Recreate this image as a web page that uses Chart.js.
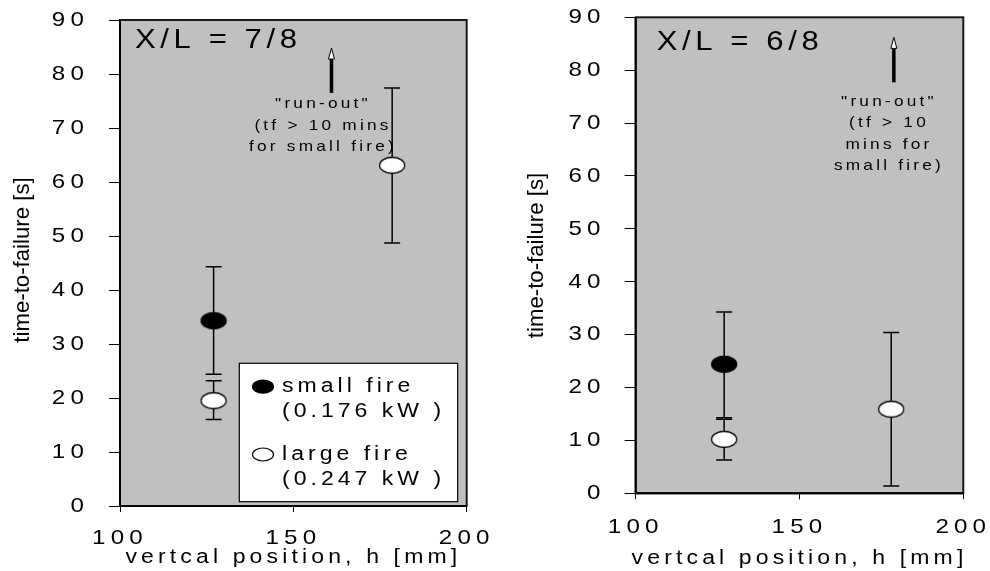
<!DOCTYPE html>
<html><head><meta charset="utf-8">
<script src="https://cdn.jsdelivr.net/npm/chart.js@4.4.1/dist/chart.umd.min.js"></script>
<style>
html,body{margin:0;padding:0;background:#fff;}
#wrap{position:relative;width:990px;height:571px;overflow:hidden;}
canvas{position:absolute;top:0;}
#c1{left:0}
#c2{left:495px}
</style></head><body>
<div id="wrap"><canvas id="c1" width="495" height="571"></canvas><canvas id="c2" width="495" height="571"></canvas></div>
<script>
// ---------- data ----------
const xTicks = [100, 150, 200];
const yTicks = [0, 10, 20, 30, 40, 50, 60, 70, 80, 90];
const seriesNames = ['small fire', 'large fire'];
const seriesPower = ['(0.176 kW )', '(0.247 kW )'];
const xTitle = 'vertcal position, h [mm]';
const yTitle = 'time-to-failure [s]';

// panel X/L = 7/8
const title78 = 'X/L = 7/8';
const small78_h = [127];
const small78_t = [34.3];
const small78_lo = [24.4];
const small78_hi = [44.3];
const large78_h = [127, 178.5];
const large78_t = [19.5, 63.1];
const large78_lo = [16.0, 48.7];
const large78_hi = [23.2, 77.4];
const runout78_h = [161];
const runout78_from = [76.5];
const runout78_to = [84.8];
const note78 = ['"run-out"', '(tf > 10 mins', 'for small fire)'];

// panel X/L = 6/8
const title68 = 'X/L = 6/8';
const small68_h = [127];
const small68_t = [24.4];
const small68_lo = [14.3];
const small68_hi = [34.3];
const large68_h = [127, 178];
const large68_t = [10.2, 15.9];
const large68_lo = [6.3, 1.4];
const large68_hi = [14.0, 30.4];
const runout68_h = [178.8];
const runout68_from = [77.7];
const runout68_to = [86.2];
const note68 = ['"run-out"', '(tf > 10', 'mins for', 'small fire)'];

// ---------- helpers ----------
const FAM = '"Liberation Sans", Arial, Helvetica, sans-serif';
const origFill = CanvasRenderingContext2D.prototype.fillText;
const SX = 1.15;

function patchCtx(ctx) {
  if (ctx.__patched) return;
  ctx.__patched = true;
  ctx.fillText = function (t, x, y) {
    const m = /(\d+(?:\.\d+)?)px/.exec(this.font);
    const size = m ? parseFloat(m[1]) : 20;
    const ls = size >= 21 ? 4.5 : 3.6;
    this.save();
    this.letterSpacing = ls + 'px';
    this.translate(x, y);
    this.scale(SX, 1);
    origFill.call(this, t, 0, 0);
    this.restore();
  };
}

function sText(ctx, txt, x, y, size, ls, sx, align) {
  ctx.save();
  ctx.font = size + 'px ' + FAM;
  ctx.letterSpacing = ls + 'px';
  ctx.textAlign = align || 'left';
  ctx.textBaseline = 'middle';
  ctx.fillStyle = '#000';
  ctx.translate(x, y);
  ctx.scale(sx, 1);
  origFill.call(ctx, txt, 0, 0);
  ctx.restore();
}

function ellipseImg(fill, w, h) {
  const c = document.createElement('canvas');
  c.width = w + 3; c.height = h + 3;
  const g = c.getContext('2d');
  g.beginPath();
  g.ellipse(c.width / 2, c.height / 2, w / 2, h / 2, 0, 0, Math.PI * 2);
  g.fillStyle = fill; g.fill();
  g.lineWidth = 1.3; g.strokeStyle = '#000'; g.stroke();
  return c;
}
const blackMark = ellipseImg('#000', 25, 16);
const whiteMark = ellipseImg('#fff', 25, 16);

function pts(hs, ts) { return hs.map((h, i) => ({ x: h, y: ts[i] })); }

function makeChart(id, P) {
  const W = 495, H = 571;
  const A = P.area;
  const plugin = {
    id: 'panel' + id,
    beforeInit(chart) { patchCtx(chart.ctx); },
    beforeDraw(chart) {
      patchCtx(chart.ctx);
      const ctx = chart.ctx, ca = chart.chartArea;
      ctx.save();
      ctx.fillStyle = '#c0c0c0';
      ctx.fillRect(ca.left, ca.top, ca.right - ca.left, ca.bottom - ca.top);
      ctx.restore();
    },
    beforeDatasetsDraw(chart) {
      const ctx = chart.ctx, ca = chart.chartArea;
      const xs = chart.scales.x, ys = chart.scales.y;
      ctx.save();
      ctx.strokeStyle = '#1a1a1a'; ctx.lineWidth = 2;
      ctx.strokeRect(ca.left, ca.top, ca.right - ca.left, ca.bottom - ca.top);
      ctx.strokeStyle = '#000';
      ctx.beginPath();
      ctx.moveTo(ca.left, ca.top); ctx.lineTo(ca.left, ca.bottom); ctx.lineTo(ca.right, ca.bottom);
      ctx.stroke();
      // error bars
      ctx.lineWidth = 1.5; ctx.strokeStyle = '#000';
      P.err.forEach(s => {
        s.h.forEach((h, i) => {
          const px = xs.getPixelForValue(h);
          const lo = ys.getPixelForValue(s.lo[i]), hi = ys.getPixelForValue(s.hi[i]);
          ctx.beginPath();
          ctx.moveTo(px, lo); ctx.lineTo(px, hi);
          ctx.moveTo(px - 8, lo); ctx.lineTo(px + 8, lo);
          ctx.moveTo(px - 8, hi); ctx.lineTo(px + 8, hi);
          ctx.stroke();
        });
      });
      ctx.restore();
    },
    afterDatasetsDraw(chart) {
      const ctx = chart.ctx;
      const xs = chart.scales.x, ys = chart.scales.y;
      // run-out arrows
      P.run.h.forEach((h, i) => {
        const px = xs.getPixelForValue(h);
        const y0 = ys.getPixelForValue(P.run.from[i]);
        const yt = ys.getPixelForValue(P.run.to[i]);
        const hl = 11, hw = 3;
        ctx.save();
        ctx.strokeStyle = '#000'; ctx.lineWidth = 3.5;
        ctx.beginPath(); ctx.moveTo(px, y0); ctx.lineTo(px, yt + hl - 1); ctx.stroke();
        ctx.beginPath();
        ctx.moveTo(px, yt); ctx.lineTo(px - hw, yt + hl); ctx.lineTo(px + hw, yt + hl); ctx.closePath();
        ctx.fillStyle = '#fff'; ctx.fill();
        ctx.lineWidth = 1; ctx.stroke();
        ctx.restore();
      });
      // notes
      P.note.lines.forEach((t, i) => {
        sText(ctx, t, P.note.x, P.note.y[i], 15, 2.8, 1.15, 'center');
      });
      // panel title
      sText(ctx, P.title, P.label.x, P.label.y, 27, 4, 1.15, 'left');
    },
    afterDraw(chart) {
      const ctx = chart.ctx;
      // y axis title (not spaced)
      ctx.save();
      ctx.translate(P.yTitle.x, P.yTitle.y);
      ctx.rotate(-Math.PI / 2);
      ctx.scale(1.01, 1);
      ctx.font = '22px ' + FAM;
      ctx.letterSpacing = '0px';
      ctx.textAlign = 'center'; ctx.textBaseline = 'middle';
      ctx.fillStyle = '#000';
      origFill.call(ctx, yTitle, 0, 0);
      ctx.restore();
      // legend
      if (P.legend) {
        const L = P.legend;
        ctx.save();
        ctx.fillStyle = '#fff';
        ctx.fillRect(L.x0, L.y0, L.x1 - L.x0, L.y1 - L.y0);
        ctx.strokeStyle = '#000'; ctx.lineWidth = 1.2;
        ctx.strokeRect(L.x0, L.y0, L.x1 - L.x0, L.y1 - L.y0);
        const fills = ['#000', '#fff'];
        seriesNames.forEach((name, i) => {
          const cy = L.rows[i];
          ctx.beginPath();
          ctx.ellipse(L.mx, cy, 10.5, 6.5, 0, 0, Math.PI * 2);
          ctx.fillStyle = fills[i]; ctx.fill();
          ctx.lineWidth = 1.2; ctx.strokeStyle = '#000'; ctx.stroke();
          sText(ctx, name, L.tx, cy, 20, 3.5, 1.15, 'left');
          sText(ctx, seriesPower[i], L.tx, cy + L.gap, 20, 3.5, 1.15, 'left');
        });
        ctx.restore();
      }
    }
  };

  return new Chart(document.getElementById(id), {
    type: 'scatter',
    data: {
      datasets: [
        { label: seriesNames[0], data: pts(P.small.h, P.small.t), pointStyle: blackMark, pointRadius: 9, pointHoverRadius: 9 },
        { label: seriesNames[1], data: pts(P.large.h, P.large.t), pointStyle: whiteMark, pointRadius: 9, pointHoverRadius: 9 }
      ]
    },
    options: {
      responsive: false,
      animation: false,
      devicePixelRatio: 1,
      events: [],
      layout: { padding: { top: A.t, right: W - A.r, left: 0, bottom: 0 } },
      plugins: { legend: { display: false }, tooltip: { enabled: false } },
      scales: {
        x: {
          type: 'linear', min: 100, max: 200,
          afterBuildTicks: s => { s.ticks = xTicks.map(v => ({ value: v })); },
          afterFit: s => { s.height = H - A.b; s.paddingLeft = 0; s.paddingRight = 0; },
          grid: { drawOnChartArea: false, drawTicks: true, tickLength: 6, color: '#000', lineWidth: 1 },
          border: { display: false },
          ticks: { autoSkip: false, maxRotation: 0, color: '#000', padding: P.xPad, font: { family: FAM, size: 21 } },
          title: { display: true, text: xTitle, color: '#000', font: { family: FAM, size: 20 }, padding: { top: 0, bottom: P.titlePadB } }
        },
        y: {
          type: 'linear', min: 0, max: 90,
          afterBuildTicks: s => { s.ticks = yTicks.map(v => ({ value: v })); },
          afterFit: s => { s.width = A.l; s.paddingTop = 0; s.paddingBottom = 0; },
          grid: { drawOnChartArea: false, drawTicks: true, tickLength: 11, color: '#000', lineWidth: 1 },
          border: { display: false },
          ticks: { color: '#000', padding: P.yPad, font: { family: FAM, size: 21 } },
          title: { display: false }
        }
      }
    },
    plugins: [plugin]
  });
}

makeChart('c1', {
  area: { l: 120, r: 466.7, t: 20, b: 506 },
  xPad: 13.4, yPad: 20, titlePadB: 2,
  small: { h: small78_h, t: small78_t },
  large: { h: large78_h, t: large78_t },
  err: [
    { h: small78_h, lo: small78_lo, hi: small78_hi },
    { h: large78_h, lo: large78_lo, hi: large78_hi }
  ],
  run: { h: runout78_h, from: runout78_from, to: runout78_to },
  note: { lines: note78, x: 323, y: [104, 126, 147] },
  title: title78,
  label: { x: 135, y: 41 },
  yTitle: { x: 23, y: 260 },
  legend: { x0: 239.3, y0: 363.3, x1: 457.7, y1: 501.7, mx: 263, tx: 282, rows: [386.7, 454.5], gap: 25 }
});

makeChart('c2', {
  area: { l: 140.7, r: 468.3, t: 17.3, b: 493.3 },
  xPad: 15.1, yPad: 19, titlePadB: 1,
  small: { h: small68_h, t: small68_t },
  large: { h: large68_h, t: large68_t },
  err: [
    { h: small68_h, lo: small68_lo, hi: small68_hi },
    { h: large68_h, lo: large68_lo, hi: large68_hi }
  ],
  run: { h: runout68_h, from: runout68_from, to: runout68_to },
  note: { lines: note68, x: 394, y: [101.7, 123.3, 145, 165.7] },
  title: title68,
  label: { x: 161.7, y: 43 },
  yTitle: { x: 42, y: 255.5 },
  legend: null
});
</script>
</body></html>
